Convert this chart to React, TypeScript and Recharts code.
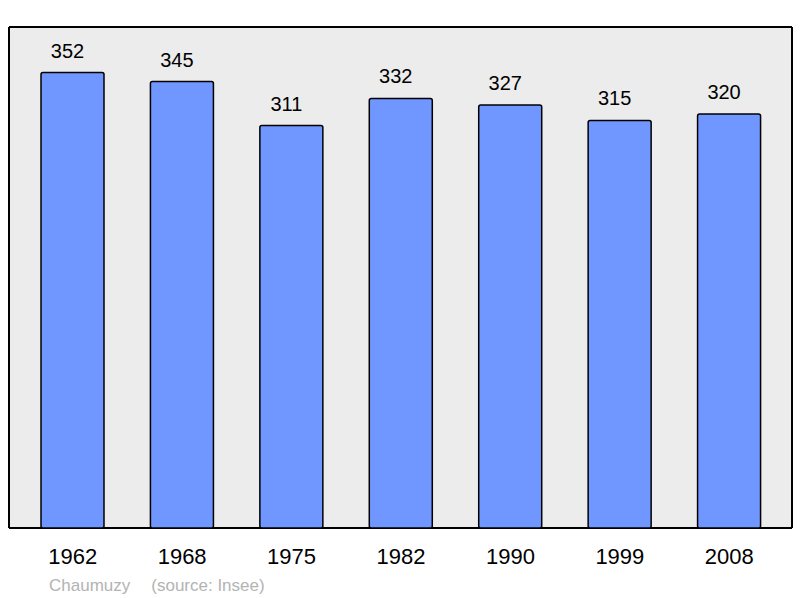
import { BarChart, Bar, XAxis, YAxis, CartesianGrid, LabelList } from "recharts";

const years = ["1962", "1968", "1975", "1982", "1990", "1999", "2008"];
const population = [352, 345, 311, 332, 327, 315, 320];
const commune = "Chaumuzy";
const sourceNote = "(source: Insee)";

const data = years.map((year, i) => ({ year, population: population[i] }));
const yMax = Math.max(...population) * 1.1;
const FONT = "'Liberation Sans', Arial, sans-serif";

function YearTick(props: any) {
  const { x, y, payload } = props;
  return (
    <text x={x} y={y} dy={36} textAnchor="middle" fontSize={22} fontFamily={FONT} fill="#000">
      {payload.value}
    </text>
  );
}

function ValueLabel(props: any) {
  const { x, y, width, value } = props;
  return (
    <text x={x + width / 2 - 5} y={y - 15} textAnchor="middle" fontSize={20} fontFamily={FONT} fill="#000">
      {value}
    </text>
  );
}

// frame lines on the plot area edges
const frameV = ({ offset }: any) => [offset.left, offset.left + offset.width];
const frameH = ({ offset }: any) => [offset.top, offset.top + offset.height];

export default function App() {
  return (
    <div style={{ position: "absolute", left: 0, top: 0, width: 800, height: 598, background: "#fff" }}>
      <BarChart width={800} height={598} data={data} margin={{ top: 27, right: 8, left: 9, bottom: 30 }}>
        <CartesianGrid
          fill="#ececec"
          stroke="#000"
          strokeWidth={2}
          verticalCoordinatesGenerator={frameV}
          horizontalCoordinatesGenerator={frameH}
          syncWithTicks={false}
        />
        <XAxis
          dataKey="year"
          axisLine={false}
          tickLine={false}
          tickSize={0}
          tickMargin={0}
          height={40}
          padding={{ left: 9, right: 8 }}
          tick={<YearTick />}
          interval={0}
        />
        <YAxis hide domain={[0, yMax]} />
        <Bar
          dataKey="population"
          fill="#7096ff"
          stroke="#000"
          strokeWidth={1.5}
          barSize={63}
          radius={2}
          isAnimationActive={false}
        >
          <LabelList dataKey="population" content={<ValueLabel />} />
        </Bar>
      </BarChart>
      <div
        style={{
          position: "absolute",
          left: 49,
          top: 577,
          fontFamily: FONT,
          fontSize: 17,
          lineHeight: "17px",
          color: "#b3b3b3",
          whiteSpace: "nowrap",
        }}
      >
        <span>{commune}</span>
        <span style={{ marginLeft: 21 }}>{sourceNote}</span>
      </div>
    </div>
  );
}
